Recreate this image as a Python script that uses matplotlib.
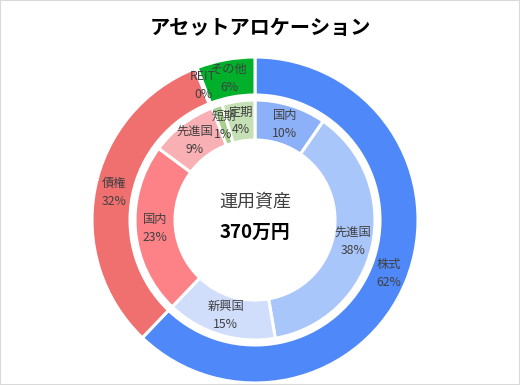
import matplotlib
matplotlib.use("Agg")
import matplotlib.pyplot as plt
from matplotlib.patches import Rectangle

plt.rcParams['font.family'] = ['Noto Sans CJK JP', 'DejaVu Sans']

title = "アセットアロケーション"
center_title = "運用資産"
center_total = "370万円"

outer_labels = ["株式", "債権", "REIT", "その他"]
outer_values = [62.4, 32.0, 0.2, 5.8]
outer_colors = ["#4F88F8", "#F07070", "#FFC000", "#00B02A"]

inner_labels = ["国内", "先進国", "新興国", "国内", "先進国", "短期", "定期"]
inner_values = [9.6, 37.6, 14.8, 23.0, 9.0, 1.4, 4.4]
inner_colors = ["#8CB1F9", "#A9C6FA", "#D0DEFC", "#FC8287", "#F9B0B4", "#A9D18E", "#C5E0B4"]

W, H = 520, 385
fig = plt.figure(figsize=(W / 100, H / 100), dpi=100)
fig.patches.append(Rectangle((0, 0), 1, 1, transform=fig.transFigure,
                             fill=False, edgecolor="#D9D9D9", linewidth=1.5))

cx, cy, R = 255, 220, 163
ax = fig.add_axes([(cx - R) / W, (H - cy - R) / H, 2 * R / W, 2 * R / H])
ax.set_aspect('equal')
ax.axis('off')

r_out, w_out = 1.0, (163 - 125) / 163
r_in, w_in = 120 / 163, 40 / 163

def pct_labels(names, vals):
    tot = sum(vals)
    return [f"{n}\n{round(v / tot * 100)}%" for n, v in zip(names, vals)]

tp = dict(fontsize=8.8, color="#404040", ha='center', va='center', linespacing=1.5)

wedges, texts = ax.pie(outer_values, radius=r_out, colors=outer_colors,
                       startangle=90, counterclock=False,
                       labels=pct_labels(outer_labels, outer_values),
                       labeldistance=(r_out - w_out / 2) / r_out,
                       wedgeprops=dict(width=w_out, edgecolor='white', linewidth=2.2),
                       textprops=tp)
for t in texts:
    t.set_ha('center')

wedges2, texts2 = ax.pie(inner_values, radius=r_in, colors=inner_colors,
                         startangle=90, counterclock=False,
                         labels=pct_labels(inner_labels, inner_values),
                         labeldistance=(r_in - w_in / 2) / r_in,
                         wedgeprops=dict(width=w_in, edgecolor='white', linewidth=2.2),
                         textprops=tp)
for t in texts2:
    t.set_ha('center')

ax.set_xlim(-1, 1)
ax.set_ylim(-1, 1)

fig.text(0.5, 1 - 27 / H, title, ha='center', va='center',
         fontsize=14.5, fontweight='bold', color='black')
fig.text(cx / W, 1 - 202 / H, center_title, ha='center', va='center',
         fontsize=13, color='#404040')
fig.text(cx / W, 1 - 232 / H, center_total, ha='center', va='center',
         fontsize=13.5, fontweight='bold', color='black')

fig.savefig("out.png", dpi=100)
